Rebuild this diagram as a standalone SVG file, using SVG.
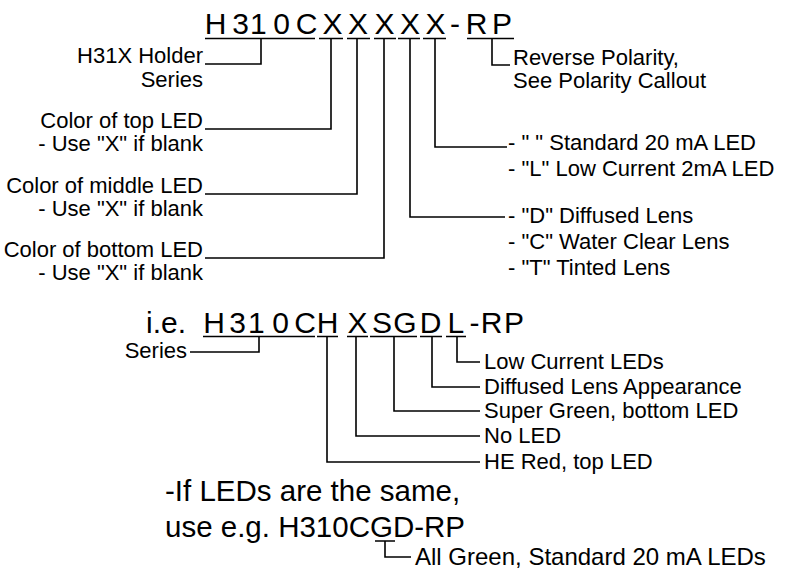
<svg xmlns="http://www.w3.org/2000/svg" width="793" height="573" viewBox="0 0 793 573">
<style>
text{font-family:"Liberation Sans",Arial,sans-serif;fill:#000}
.big{font-size:30px}
.lbl{font-size:22px}
.end{text-anchor:end}
.ln{fill:none;stroke:#000;stroke-width:1.6}
</style>
<rect width="793" height="573" fill="#fff"/>
<g id="code">
<text class="big" text-anchor="middle" x="215.5 240.5 258.4 281.5 306.5 332.5 358 384.5 410 435.5 455 476.6 502" y="34">H310CXXXXX-RP</text>
</g>
<g id="lbl-series"><text class="lbl end" x="203" y="63">H31X Holder</text><text class="lbl end" x="203" y="87">Series</text></g>
<g id="lbl-top"><text class="lbl end" x="203" y="128">Color of top LED</text><text class="lbl end" x="203" y="151">- Use "X" if blank</text></g>
<g id="lbl-mid"><text class="lbl end" x="203" y="193">Color of middle LED</text><text class="lbl end" x="203" y="216">- Use "X" if blank</text></g>
<g id="lbl-bot"><text class="lbl end" x="203" y="257">Color of bottom LED</text><text class="lbl end" x="203" y="280">- Use "X" if blank</text></g>
<g id="lbl-rp"><text class="lbl" x="513" y="65">Reverse Polarity,</text><text class="lbl" x="513" y="88">See Polarity Callout</text></g>
<g id="lbl-cur"><text class="lbl" x="508" y="150">- " " Standard 20 mA LED</text><text class="lbl" x="508" y="176">- "L" Low Current 2mA LED</text></g>
<g id="lbl-lens"><text class="lbl" x="508" y="223">- "D" Diffused Lens</text><text class="lbl" x="508" y="249">- "C" Water Clear Lens</text><text class="lbl" x="508" y="275">- "T" Tinted Lens</text></g>
<g id="example">
<text class="big" x="146" y="333">i.e.</text>
<text class="big" text-anchor="middle" x="214 237.5 256.4 280.5 305 327.5 357.5 382 405 430.6 455.8 474.5 491.6 514" y="333">H310CHXSGDL-RP</text>
</g>
<g id="ex-series"><text class="lbl end" x="187" y="358">Series</text></g>
<g id="ex-l"><text class="lbl" x="484" y="369">Low Current LEDs</text></g>
<g id="ex-d"><text class="lbl" x="484" y="394">Diffused Lens Appearance</text></g>
<g id="ex-sg"><text class="lbl" x="484" y="418">Super Green, bottom LED</text></g>
<g id="ex-x"><text class="lbl" x="484" y="443">No LED</text></g>
<g id="ex-h"><text class="lbl" x="484" y="469">HE Red, top LED</text></g>
<g id="note">
<text style="font-size:29.5px" x="165" y="501">-If LEDs are the same,</text>
<text style="font-size:29.5px" x="165" y="537">use e.g. H310CGD-RP</text>
</g>
<g id="note-lbl"><text style="font-size:24px" x="415" y="565">All Green, Standard 20 mA LEDs</text></g>
<g id="connectors">
<path class="ln" d="M205,38.5H315M319,38.5H343M347,38.5H370M374,38.5H396M398,38.5H420M423,38.5H446M467,38.5H514"/>
<path class="ln" d="M205,64H261V38.5"/>
<path class="ln" d="M205,129H331V38.5"/>
<path class="ln" d="M205,194H357V38.5"/>
<path class="ln" d="M205,258H384V38.5"/>
<path class="ln" d="M410,38.5V217H505"/>
<path class="ln" d="M435,38.5V147H507"/>
<path class="ln" d="M492,38.5V65H510"/>
<path class="ln" d="M203,336.5H315M317,336.5H338M347,336.5H368M370,336.5H417M420,336.5H442M446,336.5H466"/>
<path class="ln" d="M190,352H259V336.5"/>
<path class="ln" d="M327,336.5V462H480"/>
<path class="ln" d="M356,336.5V436H480"/>
<path class="ln" d="M394,336.5V411H480"/>
<path class="ln" d="M432,336.5V387H480"/>
<path class="ln" d="M457,336.5V362H480"/>
<path class="ln" d="M375,541H395M385,541V557H411"/>
</g>
</svg>
